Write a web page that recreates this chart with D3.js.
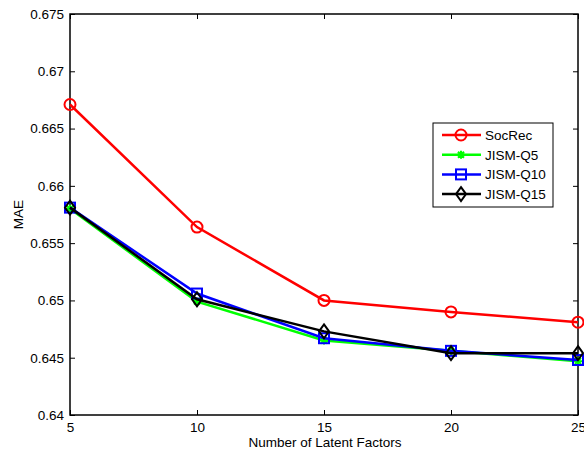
<!DOCTYPE html>
<html>
<head>
<meta charset="utf-8">
<script src="https://cdn.jsdelivr.net/npm/d3@7"></script>
<style>
  body { margin: 0; background: #fff; }
  text { font-family: 'Liberation Sans', Arial, sans-serif; }
</style>
</head>
<body>
<svg id="chart" width="584" height="454"></svg>
<script>
const factors = [5, 10, 15, 20, 25];
const socRec = [0.6671, 0.6564, 0.6500, 0.6490, 0.6481];
const jismQ5 = [0.6580, 0.6499, 0.6465, 0.6456, 0.6447];
const jismQ10 = [0.6581, 0.6506, 0.6467, 0.6456, 0.6448];
const jismQ15 = [0.6581, 0.6501, 0.6473, 0.6454, 0.6454];
const yTicks = [0.64, 0.645, 0.65, 0.655, 0.66, 0.665, 0.67, 0.675];

const MARGIN = { top: 14, right: 6, bottom: 39, left: 70 };
const WIDTH = 584 - MARGIN.left - MARGIN.right;
const HEIGHT = 454 - MARGIN.top - MARGIN.bottom;
const FONT = 13.5;

const series = [
  { name: 'SocRec', values: socRec, color: '#ff0000', marker: 'circle' },
  { name: 'JISM-Q5', values: jismQ5, color: '#00ff00', marker: 'star' },
  { name: 'JISM-Q10', values: jismQ10, color: '#0000ff', marker: 'square' },
  { name: 'JISM-Q15', values: jismQ15, color: '#000000', marker: 'diamond' },
];

const svg = d3.select('#chart');
const chart = svg.append('g')
  .attr('transform', `translate(${MARGIN.left},${MARGIN.top})`);

const x = d3.scaleLinear().domain([5, 25]).range([0, WIDTH]);
const y = d3.scaleLinear().domain([0.64, 0.675]).range([HEIGHT, 0]);

const fmt = d => String(+d.toFixed(3));

// axes with inward ticks, MATLAB style
function styleAxis(g) {
  g.select('.domain').remove();
  g.selectAll('line').attr('stroke', '#000');
  g.selectAll('text').attr('font-size', FONT).attr('fill', '#000');
}
chart.append('g')
  .attr('transform', `translate(0,${HEIGHT})`)
  .call(d3.axisBottom(x).tickValues(factors).tickSize(-5).tickPadding(7).tickFormat(d3.format('d')))
  .call(styleAxis);
chart.append('g')
  .call(d3.axisTop(x).tickValues(factors).tickSize(-5).tickFormat(''))
  .call(styleAxis);
chart.append('g')
  .call(d3.axisLeft(y).tickValues(yTicks).tickSize(-5).tickPadding(6).tickFormat(fmt))
  .call(styleAxis);
chart.append('g')
  .attr('transform', `translate(${WIDTH},0)`)
  .call(d3.axisRight(y).tickValues(yTicks).tickSize(-5).tickFormat(''))
  .call(styleAxis);

chart.append('rect')
  .attr('width', WIDTH).attr('height', HEIGHT)
  .attr('fill', 'none').attr('stroke', '#000').attr('stroke-width', 1.5);

function drawMarker(g, type, color) {
  if (type === 'circle') {
    g.append('circle').attr('r', 5.5).attr('fill', 'none').attr('stroke', color).attr('stroke-width', 2);
  } else if (type === 'square') {
    g.append('rect').attr('x', -5).attr('y', -5).attr('width', 10).attr('height', 10)
      .attr('fill', 'none').attr('stroke', color).attr('stroke-width', 2);
  } else if (type === 'diamond') {
    g.append('path').attr('d', 'M0,-7L5,0L0,7L-5,0Z')
      .attr('fill', 'none').attr('stroke', color).attr('stroke-width', 2);
  } else if (type === 'star') {
    g.append('path').attr('d', 'M-4,0L4,0M0,-4L0,4M-3,-3L3,3M-3,3L3,-3')
      .attr('fill', 'none').attr('stroke', color).attr('stroke-width', 2);
  }
}

const line = d3.line().x((d, i) => x(factors[i])).y(d => y(d));

series.forEach(s => {
  chart.append('path')
    .datum(s.values)
    .attr('d', line)
    .attr('fill', 'none')
    .attr('stroke', s.color)
    .attr('stroke-width', 2.5);
  s.values.forEach((v, i) => {
    const g = chart.append('g').attr('transform', `translate(${x(factors[i])},${y(v)})`);
    drawMarker(g, s.marker, s.color);
  });
});

// axis titles
svg.append('text')
  .attr('x', 325).attr('y', 446.5)
  .attr('text-anchor', 'middle').attr('font-size', FONT)
  .text('Number of Latent Factors');
svg.append('text')
  .attr('transform', `translate(23,${MARGIN.top + HEIGHT / 2}) rotate(-90)`)
  .attr('text-anchor', 'middle').attr('font-size', FONT)
  .text('MAE');

// legend
const legend = svg.append('g').attr('transform', 'translate(433,123)');
legend.append('rect')
  .attr('width', 120).attr('height', 84)
  .attr('fill', '#fff').attr('stroke', '#000').attr('stroke-width', 1);
series.forEach((s, i) => {
  const row = legend.append('g').attr('transform', `translate(0,${12 + i * 19.7})`);
  row.append('line').attr('x1', 9).attr('x2', 48)
    .attr('stroke', s.color).attr('stroke-width', 2.5);
  drawMarker(row.append('g').attr('transform', 'translate(28,0)'), s.marker, s.color);
  row.append('text').attr('x', 52).attr('y', 5)
    .attr('font-size', FONT).text(s.name);
});
</script>
</body>
</html>
